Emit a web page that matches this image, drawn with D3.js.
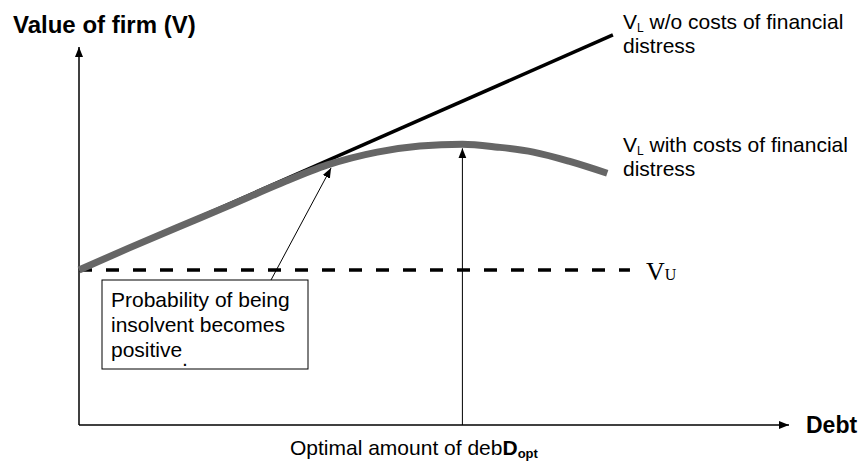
<!DOCTYPE html>
<html>
<head>
<meta charset="utf-8">
<script src="https://cdn.jsdelivr.net/npm/d3@7/dist/d3.min.js"></script>
<style>
body { margin:0; background:#fff; }
</style>
</head>
<body>
<div id="chart"></div>
<script>
// debt levels and firm values
var debtCost = [0, 7, 14, 21, 28, 35, 42, 48, 54, 59, 64, 69, 74.4];
var valueCost = [41, 46.8, 52.4, 57.9, 63.6, 68.8, 72.2, 73.8, 74.3, 73.5, 72.2, 69.8, 66.6];
var debtNoCost = [0, 75.2];
var valueNoCost = [41, 103.2];
var valueU = 41;
var debtU = [0, 77.6];
var debtOpt = 54;
var insolventAt = 35.5;

var w = 863, h = 463;
var sans = "Arial, 'Liberation Sans', sans-serif";
var svg = d3.select("#chart").append("svg").attr("width", w).attr("height", h)
  .style("font-family", sans);

var x = d3.scaleLinear().domain([0, 100]).range([79, 789]);
var y = d3.scaleLinear().domain([0, 100]).range([425, 47]);

var defs = svg.append("defs");
defs.append("marker").attr("id", "arr").attr("viewBox", "0 0 10 10")
  .attr("refX", 10).attr("refY", 5).attr("markerWidth", 10).attr("markerHeight", 10)
  .attr("markerUnits", "userSpaceOnUse").attr("orient", "auto")
  .append("path").attr("d", "M0,1 L10,5 L0,9 Z").attr("fill", "#000");

// axes
svg.append("line").attr("x1", x(0)).attr("y1", y(0)).attr("x2", x(100)).attr("y2", y(0))
  .attr("stroke", "#000").attr("stroke-width", 1.5).attr("marker-end", "url(#arr)");
svg.append("line").attr("x1", x(0)).attr("y1", y(0)).attr("x2", x(0)).attr("y2", y(100))
  .attr("stroke", "#000").attr("stroke-width", 1.5).attr("marker-end", "url(#arr)");

// V_U dashed
svg.append("line").attr("x1", x(debtU[0])).attr("x2", x(debtU[1]))
  .attr("y1", y(valueU)).attr("y2", y(valueU))
  .attr("stroke", "#000").attr("stroke-width", 3.5).attr("stroke-dasharray", "13,14");

var line = d3.line().x(function(d){ return x(d[0]); }).y(function(d){ return y(d[1]); });

svg.append("path").datum(d3.zip(debtNoCost, valueNoCost)).attr("d", line)
  .attr("fill", "none").attr("stroke", "#000").attr("stroke-width", 3.5);

svg.append("path").datum(d3.zip(debtCost, valueCost)).attr("d", line.curve(d3.curveMonotoneX))
  .attr("fill", "none").attr("stroke", "#666").attr("stroke-width", 7);

// optimal debt arrow
svg.append("line").attr("x1", x(debtOpt)).attr("x2", x(debtOpt)).attr("y1", y(0)).attr("y2", y(73.2))
  .attr("stroke", "#000").attr("stroke-width", 1).attr("marker-end", "url(#arr)");

// box + arrow
svg.append("line").attr("x1", 271).attr("y1", 280).attr("x2", x(insolventAt)).attr("y2", y(68))
  .attr("stroke", "#000").attr("stroke-width", 1).attr("marker-end", "url(#arr)");
svg.append("rect").attr("x", 102).attr("y", 280).attr("width", 206).attr("height", 89)
  .attr("fill", "#fff").attr("stroke", "#000").attr("stroke-width", 1);
var boxText = ["Probability of being", "insolvent becomes", "positive"];
svg.selectAll("text.box").data(boxText).enter().append("text").attr("class", "box")
  .attr("x", 111).attr("y", function(d, i){ return 307 + i * 25; })
  .attr("font-size", 21).text(function(d){ return d; });
svg.append("text").attr("x", 183).attr("y", 366).attr("font-size", 14).attr("font-weight", "bold").text(".");

// axis titles
svg.append("text").attr("x", 13).attr("y", 33).attr("font-size", 24).attr("font-weight", "bold").text("Value of firm (V)");
svg.append("text").attr("x", 806).attr("y", 433).attr("font-size", 23).attr("font-weight", "bold").text("Debt");

var t = svg.append("text").attr("x", 290).attr("y", 455).attr("font-size", 21);
t.append("tspan").text("Optimal amount of deb");
t.append("tspan").attr("font-weight", "bold").text("D");
t.append("tspan").attr("font-weight", "bold").attr("font-size", 13).attr("dy", 3).text("opt");

// line labels
function vlabel(xx, yy, rest) {
  var g = svg.append("text").attr("x", xx).attr("y", yy).attr("font-size", 21);
  g.append("tspan").text("V");
  g.append("tspan").attr("font-size", 12).attr("dy", 3).text("L");
  g.append("tspan").attr("dy", -3).text(" " + rest);
  svg.append("text").attr("x", xx).attr("y", yy + 24).attr("font-size", 21).text("distress");
}
vlabel(623, 29, "w/o costs of financial");
vlabel(623, 152, "with costs of financial");

var vu = svg.append("text").attr("x", 646).attr("y", 280)
  .style("font-family", "'Liberation Serif', 'Times New Roman', serif").attr("font-size", 26);
vu.append("tspan").text("V");
vu.append("tspan").attr("font-size", 16).text("U");
</script>
</body>
</html>
